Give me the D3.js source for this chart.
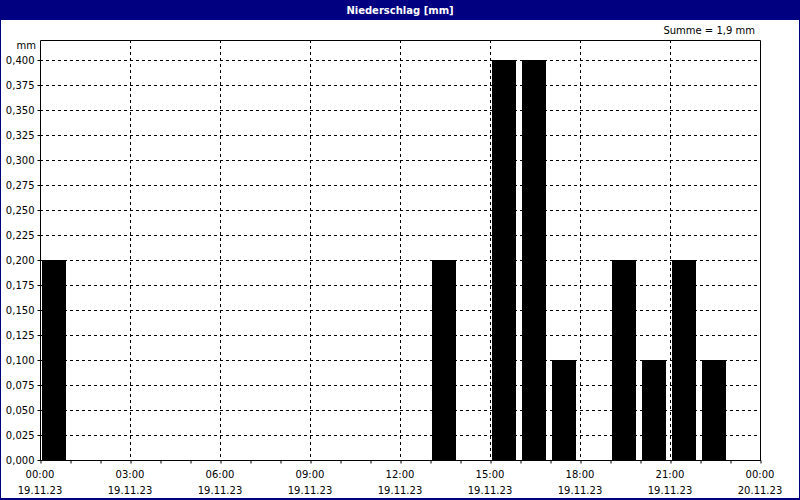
<!DOCTYPE html>
<html>
<head>
<meta charset="utf-8">
<script src="https://cdn.jsdelivr.net/npm/d3@7"></script>
<style>
  body { margin: 0; background: #fff; }
  svg { display: block; }
  text { font-family: Tahoma, "DejaVu Sans", sans-serif; font-size: 10px; fill: #000; }
</style>
</head>
<body>
<div id="chart"></div>
<script>
// Precipitation per hour (hour of day, mm)
var hours = [0, 13, 15, 16, 17, 19, 20, 21, 22];
var values = [0.2, 0.2, 0.4, 0.4, 0.1, 0.2, 0.1, 0.2, 0.1];
var yTicks = [0, 0.025, 0.05, 0.075, 0.1, 0.125, 0.15, 0.175, 0.2, 0.225, 0.25, 0.275, 0.3, 0.325, 0.35, 0.375, 0.4];
var xTicks = [0, 3, 6, 9, 12, 15, 18, 21, 24];
var xTimeLabels = ["00:00", "03:00", "06:00", "09:00", "12:00", "15:00", "18:00", "21:00", "00:00"];
var xDateLabels = ["19.11.23", "19.11.23", "19.11.23", "19.11.23", "19.11.23", "19.11.23", "19.11.23", "19.11.23", "20.11.23"];

var svgWidth = 800;
var svgHeight = 500;
var margin = { top: 40, right: 40, bottom: 40, left: 40 };
var chartWidth = svgWidth - margin.left - margin.right;
var chartHeight = svgHeight - margin.top - margin.bottom;

var svg = d3.select("#chart").append("svg")
  .attr("width", svgWidth)
  .attr("height", svgHeight);

// window frame + title bar
svg.append("rect")
  .attr("x", 0).attr("y", 0)
  .attr("width", svgWidth).attr("height", svgHeight)
  .attr("fill", "#000080");
svg.append("rect")
  .attr("x", 1).attr("y", 20)
  .attr("width", svgWidth - 2).attr("height", svgHeight - 22)
  .attr("fill", "#fff");
svg.append("text")
  .attr("x", svgWidth / 2).attr("y", 14)
  .attr("text-anchor", "middle")
  .style("font-weight", "bold")
  .style("fill", "#fff")
  .text("Niederschlag [mm]");

svg.append("text")
  .attr("x", 755).attr("y", 34)
  .attr("text-anchor", "end")
  .text("Summe = 1,9 mm");

var chartGroup = svg.append("g")
  .attr("transform", `translate(${margin.left}, ${margin.top})`);

var xScale = d3.scaleLinear().domain([0, 24]).range([0, chartWidth]);
var yScale = d3.scaleLinear().domain([0, 0.4]).range([chartHeight, 20]);

// grid
chartGroup.selectAll(".hgrid")
  .data(yTicks.slice(1))
  .enter().append("line")
  .attr("x1", 0).attr("x2", chartWidth)
  .attr("y1", d => Math.round(yScale(d)) + 0.5)
  .attr("y2", d => Math.round(yScale(d)) + 0.5)
  .attr("stroke", "#000").attr("stroke-dasharray", "3,3");

chartGroup.selectAll(".vgrid")
  .data(xTicks.slice(1, -1))
  .enter().append("line")
  .attr("x1", d => Math.round(xScale(d)) + 0.5)
  .attr("x2", d => Math.round(xScale(d)) + 0.5)
  .attr("y1", 0).attr("y2", chartHeight)
  .attr("stroke", "#000").attr("stroke-dasharray", "3,3");

// bars
chartGroup.selectAll(".bar")
  .data(hours)
  .enter().append("rect")
  .attr("class", "bar")
  .attr("x", d => xScale(d) + 2)
  .attr("y", (d, i) => yScale(values[i]))
  .attr("width", xScale(1) - xScale(0) - 6)
  .attr("height", (d, i) => chartHeight - yScale(values[i]))
  .attr("fill", "#000");

// frame
chartGroup.append("path")
  .attr("d", `M0.5,${chartHeight}V0.5H${chartWidth + 0.5}V${chartHeight}`)
  .attr("fill", "none").attr("stroke", "#000");

// axes
var leftAxis = d3.axisLeft(yScale)
  .tickValues(yTicks)
  .tickSize(3)
  .tickFormat(d => d3.format(".3f")(d).replace(".", ","));
var yAxisG = chartGroup.append("g")
  .attr("transform", "translate(0.5,0)")
  .call(leftAxis);
yAxisG.select(".domain").remove();
yAxisG.selectAll("text").style("font-size", "10px").style("font-family", null);

chartGroup.append("text")
  .attr("x", -4).attr("y", 9)
  .attr("text-anchor", "end")
  .text("mm");

var bottomAxis = d3.axisBottom(xScale)
  .ticks(24)
  .tickSize(3)
  .tickFormat("");
var xAxisG = chartGroup.append("g")
  .attr("transform", `translate(0.5, ${chartHeight + 0.5})`)
  .call(bottomAxis);
xAxisG.select(".domain").attr("d", `M-0.5,0H${chartWidth + 0.5}`);

chartGroup.selectAll(".xlab")
  .data(xTicks)
  .enter().append("text")
  .attr("x", d => xScale(d))
  .attr("y", chartHeight + 18)
  .attr("text-anchor", "middle")
  .text((d, i) => xTimeLabels[i]);

chartGroup.selectAll(".xdate")
  .data(xTicks)
  .enter().append("text")
  .attr("x", d => xScale(d))
  .attr("y", chartHeight + 34)
  .attr("text-anchor", "middle")
  .text((d, i) => xDateLabels[i]);
</script>
</body>
</html>
